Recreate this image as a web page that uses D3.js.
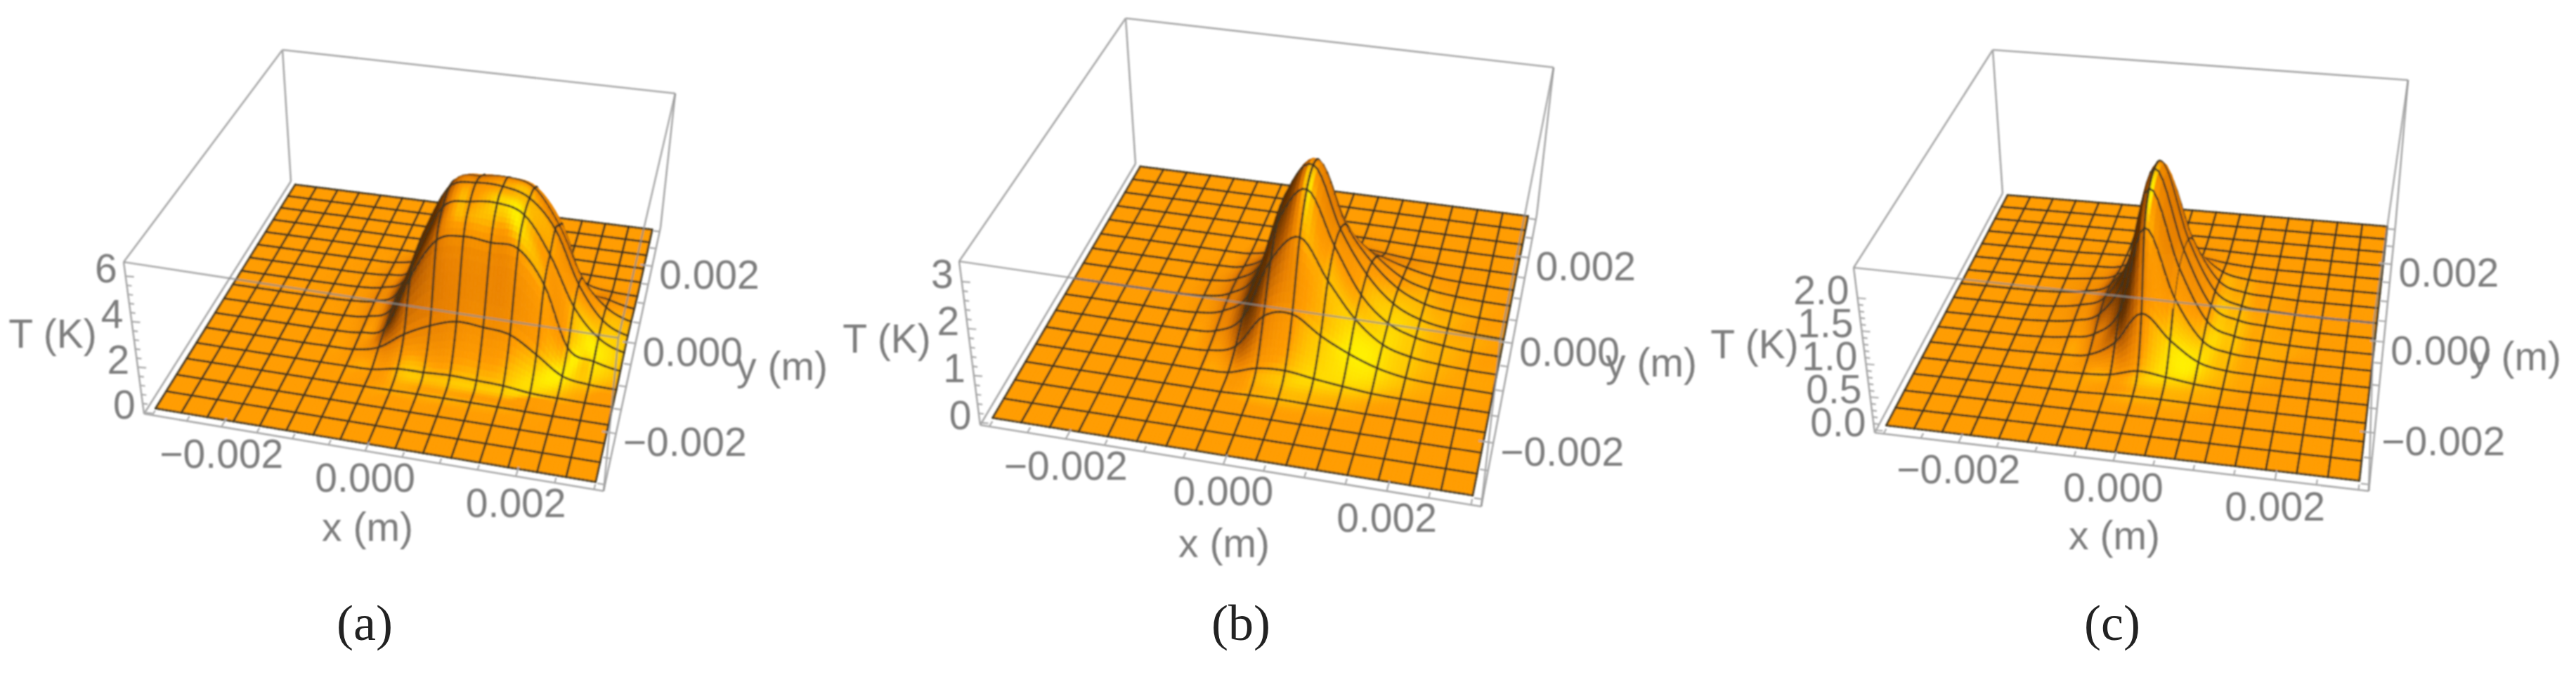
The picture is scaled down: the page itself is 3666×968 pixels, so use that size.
<!DOCTYPE html>
<html>
<head>
<meta charset="utf-8">
<title>T(x, y) surfaces</title>
<script src="https://cdnjs.cloudflare.com/ajax/libs/d3/7.8.5/d3.min.js"></script>
<style>
  html, body { margin: 0; padding: 0; background: #fff; }
  svg { display: block; }
</style>
</head>
<body>
<svg id="chart" width="3666" height="968"></svg>
<script>
// tick values and labels
var xTicks = [-0.002, 0, 0.002];
var yTicks = [-0.002, 0, 0.002];
var minorTicks = [-0.003, -0.0025, -0.0015, -0.001, -0.0005, 0.0005, 0.001, 0.0015, 0.0025, 0.003];
var zTicksA = [0, 2, 4, 6];
var zTicksB = [0, 1, 2, 3];
var zTicksC = [0, 0.5, 1, 1.5, 2];
var captions = ['(a)', '(b)', '(c)'];

// T (K) read at the mesh crossings, rows front (y = -0.003) to back, columns x = -0.003 to 0.003
var flat = [0, 0, 0, 0, 0, 0, 0, 0, 0, 0, 0, 0, 0, 0, 0, 0, 0];

var heightsA = [
  flat, flat, flat,
  [0, 0, 0, 0, 0, 0, 0, .01, .02, .03, .03, .03, .02, .01, 0, 0, 0],
  [0, 0, 0, 0, 0, 0, .01, .03, .23, .25, .3, .25, .2, .06, .02, 0, 0],
  [0, 0, 0, 0, 0, .01, .04, .3, 1.07, 1.64, 2, 1.92, 1.76, 1.04, .25, .05, .01],
  [0, 0, 0, 0, 0, .02, .1, .5, 3, 4.86, 5.2, 5.09, 4.98, 3.5, .8, .35, .1],
  [0, 0, 0, 0, .01, .03, .15, .7, 3.35, 5.74, 6.14, 6.24, 5.86, 4.2, 1.96, .7, .2],
  [0, 0, 0, 0, .01, .04, .18, .8, 3.7, 6, 6.37, 6.36, 5.98, 4.7, 2.3, .8, .25],
  [0, 0, 0, 0, .01, .03, .15, .7, 3.35, 5.7, 6.03, 6.13, 5.8, 4.2, 1.9, .7, .2],
  [0, 0, 0, 0, 0, .02, .1, .5, 3, 4.8, 5.2, 5.1, 4.9, 3.5, .8, .35, .1],
  [0, 0, 0, 0, 0, .01, .04, .3, 1.07, 1.64, 2, 1.92, 1.76, 1.04, .25, .05, .01],
  [0, 0, 0, 0, 0, 0, .01, .03, .23, .25, .3, .25, .2, .06, .02, 0, 0],
  [0, 0, 0, 0, 0, 0, 0, .01, .02, .03, .03, .03, .02, .01, 0, 0, 0],
  flat, flat, flat
];

var heightsB = [
  flat, flat, flat,
  [0, 0, 0, 0, 0, 0, 0, 0, .02, .03, .02, .01, 0, 0, 0, 0, 0],
  [0, 0, 0, 0, 0, 0, 0, .02, .2, .24, .16, .09, .03, .01, 0, 0, 0],
  [0, 0, 0, 0, 0, 0, .02, .2, .95, 1.08, .7, .4, .18, .06, .02, .01, 0],
  [0, 0, 0, 0, 0, .01, .07, .45, 1.8, 2.4, 1.53, .77, .3, .12, .05, .02, .01],
  [0, 0, 0, 0, 0, .02, .14, .62, 2.3, 3.1, 1.93, .93, .39, .16, .07, .02, .01],
  [0, 0, 0, 0, 0, .03, .17, .68, 2.5, 3.3, 1.95, 1.02, .45, .18, .07, .03, .01],
  [0, 0, 0, 0, 0, .02, .14, .62, 2.3, 3.05, 1.7, .93, .42, .16, .07, .02, .01],
  [0, 0, 0, 0, 0, .01, .07, .45, 1.7, 2.2, 1.2, .7, .3, .12, .05, .02, .01],
  [0, 0, 0, 0, 0, 0, .02, .2, .85, .9, .55, .35, .18, .06, .02, .01, 0],
  [0, 0, 0, 0, 0, 0, 0, .02, .2, .22, .14, .08, .03, .01, 0, 0, 0],
  [0, 0, 0, 0, 0, 0, 0, 0, .02, .03, .02, .01, 0, 0, 0, 0, 0],
  flat, flat, flat
];

var heightsC = [
  flat, flat, flat,
  [0, 0, 0, 0, 0, 0, 0, .01, .02, .02, .01, 0, 0, 0, 0, 0, 0],
  [0, 0, 0, 0, 0, .01, .02, .05, .15, .1, .04, .01, 0, 0, 0, 0, 0],
  [0, 0, 0, 0, .01, .02, .06, .3, .8, .42, .12, .03, .01, 0, 0, 0, 0],
  [0, 0, 0, 0, .01, .05, .14, .55, 1.92, .85, .2, .05, .02, 0, 0, 0, 0],
  [0, 0, 0, 0, .02, .07, .22, .85, 2.32, 1.1, .27, .07, .03, .01, 0, 0, 0],
  [0, 0, 0, 0, .02, .08, .25, .95, 2.42, 1.15, .28, .08, .03, .01, 0, 0, 0],
  [0, 0, 0, 0, .02, .07, .22, .85, 2.32, 1.08, .27, .07, .03, .01, 0, 0, 0],
  [0, 0, 0, 0, .01, .05, .14, .55, 1.92, .85, .2, .05, .02, 0, 0, 0, 0],
  [0, 0, 0, 0, .01, .02, .06, .3, .8, .42, .12, .03, .01, 0, 0, 0, 0],
  [0, 0, 0, 0, 0, .01, .02, .05, .15, .1, .04, .01, 0, 0, 0, 0, 0],
  [0, 0, 0, 0, 0, 0, 0, .01, .02, .02, .01, 0, 0, 0, 0, 0, 0],
  flat, flat, flat
];

// box corners in pixels for each panel, and where the labels sit
var panels = [
  {
    heights: heightsA, zTicks: zTicksA, zFormat: d3.format('d'), zDomain: [-0.05, 6.62], caption: captions[0],
    top: [[176, 373], [880, 481], [961, 133], [402, 71]],
    base: [[205, 589], [859, 699], [940, 324], [414, 258]],
    xOff: [0, 38], yOff: [10, 12], zOff: [-12, -11],
    xTitle: [523, 752], yTitle: [1113, 523], zTitle: [75, 475], capPos: [519, 895]
  },
  {
    heights: heightsB, zTicks: zTicksB, zFormat: d3.format('d'), zDomain: [-0.05, 3.43], caption: captions[1],
    top: [[1365, 372], [2135, 485], [2211, 96], [1602, 26]],
    base: [[1395, 605], [2108, 721], [2187, 306], [1616, 233]],
    xOff: [0, 38], yOff: [10, 12], zOff: [-12, -11],
    xTitle: [1742, 775], yTitle: [2350, 518], zTitle: [1262, 482], capPos: [1766, 895]
  },
  {
    heights: heightsC, zTicks: zTicksC, zFormat: d3.format('.1f'), zDomain: [-0.04, 2.46], caption: captions[2],
    top: [[2638, 381], [3378, 460], [3427, 114], [2836, 71]],
    base: [[2668, 616], [3371, 699], [3409, 321], [2850, 275]],
    xOff: [0, 38], yOff: [10, 12], zOff: [-12, -11],
    xTitle: [3009, 764], yTitle: [3580, 509], zTitle: [2497, 490], capPos: [3006, 895]
  }
];

var svg = d3.select('#chart');

svg.append('defs').append('filter')
  .attr('id', 'soft')
  .attr('filterUnits', 'userSpaceOnUse')
  .attr('x', 0).attr('y', 0).attr('width', 3666).attr('height', 968)
  .append('feGaussianBlur')
  .attr('stdDeviation', 1.2);

var meshCells = 16;
var sub = 7;
var fineN = meshCells * sub;

// unit cube coordinates
var xScale = d3.scaleLinear().domain([-0.00312, 0.00312]).range([0, 1]);
var yScale = d3.scaleLinear().domain([-0.00312, 0.00312]).range([0, 1]);
var gridScale = d3.scaleLinear().domain([0, meshCells]).range([-0.003, 0.003]);

var camera = [0.5, -1.3, 1.6];
var boxRatio = 0.4;
var light = [0.42, -0.42, 0.8];

var shade = d3.scaleLinear()
  .domain([0, 0.3, 0.58, 0.8, 0.93, 1])
  .range(['#5e2e00', '#b05800', '#e88000', '#ff9c00', '#ffd000', '#fff200'])
  .clamp(true);

// unit square to a four sided figure
function quadMap(q) {
  var x0 = q[0][0], y0 = q[0][1], x1 = q[1][0], y1 = q[1][1];
  var x2 = q[2][0], y2 = q[2][1], x3 = q[3][0], y3 = q[3][1];
  var dx1 = x1 - x2, dx2 = x3 - x2, sx = x0 - x1 + x2 - x3;
  var dy1 = y1 - y2, dy2 = y3 - y2, sy = y0 - y1 + y2 - y3;
  var den = dx1 * dy2 - dx2 * dy1;
  var g = (sx * dy2 - dx2 * sy) / den;
  var h = (dx1 * sy - sx * dy1) / den;
  var a = x1 - x0 + g * x1, b = x3 - x0 + h * x3;
  var d = y1 - y0 + g * y1, e = y3 - y0 + h * y3;
  return function (u, v) {
    var w = g * u + h * v + 1;
    return [(a * u + b * v + x0) / w, (d * u + e * v + y0) / w];
  };
}

function spline(p0, p1, p2, p3, t) {
  return 0.5 * (2 * p1 + (p2 - p0) * t + (2 * p0 - 5 * p1 + 4 * p2 - p3) * t * t + (3 * p1 - p0 - 3 * p2 + p3) * t * t * t);
}

function clampIndex(k) {
  return Math.max(0, Math.min(meshCells, k));
}

function sampleHeight(m, fi, fj) {
  var i = Math.min(meshCells - 1, Math.floor(fi)), j = Math.min(meshCells - 1, Math.floor(fj));
  var tx = fi - i, ty = fj - j;
  var rows = [-1, 0, 1, 2].map(function (dj) {
    var r = m[clampIndex(j + dj)];
    return spline(r[clampIndex(i - 1)], r[i], r[i + 1], r[clampIndex(i + 2)], tx);
  });
  return Math.max(0, spline(rows[0], rows[1], rows[2], rows[3], ty));
}

var line = d3.line();

panels.forEach(function (p) {
  var zScale = d3.scaleLinear().domain(p.zDomain).range([0, 1]);
  var baseMap = quadMap(p.base), topMap = quadMap(p.top);

  function project(x, y, z) {
    var u = xScale(x), v = yScale(y), w = zScale(z);
    var a = baseMap(u, v), b = topMap(u, v);
    return [a[0] + (b[0] - a[0]) * w, a[1] + (b[1] - a[1]) * w];
  }

  var xLo = xScale.domain()[0], xHi = xScale.domain()[1];
  var yLo = yScale.domain()[0], yHi = yScale.domain()[1];
  var zLo = p.zDomain[0], zHi = p.zDomain[1];

  var g = svg.append('g').attr('filter', 'url(#soft)');

  function edges(group, list, color, opacity) {
    group.selectAll('path')
      .data(list)
      .join('path')
      .attr('d', function (d) { return line(d); })
      .attr('fill', 'none')
      .attr('stroke', color)
      .attr('stroke-width', 2.6)
      .attr('stroke-opacity', opacity);
  }

  // box edges behind the surface
  edges(g.append('g'), [
    [project(xLo, yHi, zLo), project(xLo, yHi, zHi)],
    [project(xHi, yHi, zLo), project(xHi, yHi, zHi)],
    [project(xLo, yHi, zHi), project(xHi, yHi, zHi)],
    [project(xLo, yLo, zHi), project(xLo, yHi, zHi)],
    [project(xLo, yLo, zLo), project(xLo, yHi, zLo)],
    [project(xHi, yLo, zLo), project(xHi, yHi, zLo)],
    [project(xLo, yLo, zLo), project(xHi, yLo, zLo)],
    [project(xLo, yLo, zLo), project(xLo, yLo, zHi)]
  ], '#a8a8a8', 1);

  // fine samples of the surface between the mesh crossings
  var fine = d3.range(fineN + 1).map(function (fj) {
    return d3.range(fineN + 1).map(function (fi) {
      return sampleHeight(p.heights, fi / sub, fj / sub);
    });
  });

  function gx(fi) { return gridScale(fi / sub); }

  function depth(u, v, w) {
    var dx = u - camera[0], dy = v - camera[1], dz = w * boxRatio - camera[2];
    return Math.sqrt(dx * dx + dy * dy + dz * dz);
  }

  function depthAt(fi, fj) {
    return depth(xScale(gx(fi)), yScale(gx(fj)), zScale(fine[Math.round(fj)][Math.round(fi)]));
  }

  var items = [];
  var cell = xScale(gx(1)) - xScale(gx(0));
  var wRange = function (t) { return zScale(t) * boxRatio; };

  for (var fj = 0; fj < fineN; fj++) {
    for (var fi = 0; fi < fineN; fi++) {
      var h00 = fine[fj][fi], h10 = fine[fj][fi + 1], h11 = fine[fj + 1][fi + 1], h01 = fine[fj + 1][fi];
      // normal from the two diagonals of the small cell
      var dzx = (wRange(h10) + wRange(h11) - wRange(h00) - wRange(h01)) / (2 * cell);
      var dzy = (wRange(h01) + wRange(h11) - wRange(h00) - wRange(h10)) / (2 * cell);
      var len = Math.sqrt(dzx * dzx + dzy * dzy + 1);
      var b = (-dzx * light[0] - dzy * light[1] + light[2]) / len;
      items.push({
        type: 'cell',
        order: depth(xScale(gx(fi + 0.5)), yScale(gx(fj + 0.5)), zScale((h00 + h10 + h11 + h01) / 4)),
        d: line([
          project(gx(fi), gx(fj), h00), project(gx(fi + 1), gx(fj), h10),
          project(gx(fi + 1), gx(fj + 1), h11), project(gx(fi), gx(fj + 1), h01)
        ]) + 'Z',
        color: shade(b)
      });
    }
  }

  // mesh lines go in the same back to front order, a little ahead of their cells
  var bias = cell * 0.8;
  for (var m = 0; m <= meshCells; m++) {
    for (var k = 0; k < fineN; k++) {
      var fixed = m * sub;
      items.push({
        type: 'mesh',
        order: (depthAt(fixed, k) + depthAt(fixed, k + 1)) / 2 - bias,
        d: line([project(gx(fixed), gx(k), fine[k][fixed]), project(gx(fixed), gx(k + 1), fine[k + 1][fixed])])
      });
      items.push({
        type: 'mesh',
        order: (depthAt(k, fixed) + depthAt(k + 1, fixed)) / 2 - bias,
        d: line([project(gx(k), gx(fixed), fine[fixed][k]), project(gx(k + 1), gx(fixed), fine[fixed][k + 1])])
      });
    }
  }

  items.sort(function (a, b) { return d3.descending(a.order, b.order); });

  g.append('g').selectAll('path')
    .data(items)
    .join('path')
    .attr('d', function (d) { return d.d; })
    .attr('fill', function (d) { return d.type === 'cell' ? d.color : 'none'; })
    .attr('stroke', function (d) { return d.type === 'cell' ? d.color : '#3d3520'; })
    .attr('stroke-width', function (d) { return d.type === 'cell' ? 0.8 : 3; })
    .attr('stroke-linecap', 'round')
    .attr('stroke-opacity', function (d) { return d.type === 'cell' ? 1 : 0.85; });

  // box edges in front of the surface
  edges(g.append('g'), [
    [project(xLo, yLo, zHi), project(xHi, yLo, zHi)],
    [project(xHi, yLo, zHi), project(xHi, yHi, zHi)],
    [project(xHi, yLo, zLo), project(xHi, yLo, zHi)]
  ], '#909090', 0.75);

  // ticks on the three labelled edges
  var tickGroup = g.append('g');
  function tick(a, b) {
    tickGroup.append('path')
      .attr('d', line([a, b]))
      .attr('stroke', '#a8a8a8')
      .attr('stroke-width', 2.2);
  }

  xTicks.concat(minorTicks).forEach(function (t) {
    var major = xTicks.indexOf(t) >= 0;
    tick(project(t, yLo, zLo), project(t, yLo + (major ? 0.00018 : 0.0001), zLo));
  });
  yTicks.concat(minorTicks).forEach(function (t) {
    var major = yTicks.indexOf(t) >= 0;
    tick(project(xHi, t, zLo), project(xHi - (major ? 0.00018 : 0.0001), t, zLo));
  });
  var zStep = p.zTicks[1] - p.zTicks[0];
  d3.range(0, p.zTicks[p.zTicks.length - 1] + zStep / 10, zStep / 5).forEach(function (t, k) {
    var q = project(xLo, yLo, t);
    tick(q, [q[0] + (k % 5 === 0 ? 12 : 7), q[1] + 1]);
  });

  // labels
  var labels = g.append('g')
    .attr('font-family', '"Liberation Sans", Arial, sans-serif')
    .attr('font-size', 57)
    .attr('fill', '#7d7d7d');

  var tickFormat = function (t) { return d3.format('.3f')(t).replace('-', '\u2212'); };

  labels.selectAll('text.xt')
    .data(xTicks)
    .join('text')
    .attr('class', 'xt')
    .attr('text-anchor', 'middle')
    .attr('x', function (t) { return project(t, yLo, zLo)[0] + p.xOff[0]; })
    .attr('y', function (t) { return project(t, yLo, zLo)[1] + p.xOff[1] + 20; })
    .text(tickFormat);

  labels.selectAll('text.yt')
    .data(yTicks)
    .join('text')
    .attr('class', 'yt')
    .attr('x', function (t) { return project(xHi, t, zLo)[0] + p.yOff[0]; })
    .attr('y', function (t) { return project(xHi, t, zLo)[1] + p.yOff[1] + 20; })
    .text(tickFormat);

  labels.selectAll('text.zt')
    .data(p.zTicks)
    .join('text')
    .attr('class', 'zt')
    .attr('text-anchor', 'end')
    .attr('x', function (t) { return project(xLo, yLo, t)[0] + p.zOff[0]; })
    .attr('y', function (t) { return project(xLo, yLo, t)[1] + p.zOff[1] + 20; })
    .text(p.zFormat);

  labels.append('text').attr('text-anchor', 'middle')
    .attr('x', p.xTitle[0]).attr('y', p.xTitle[1] + 18).text('x (m)');
  labels.append('text').attr('text-anchor', 'middle')
    .attr('x', p.yTitle[0]).attr('y', p.yTitle[1] + 18).text('y (m)');
  labels.append('text').attr('text-anchor', 'middle')
    .attr('x', p.zTitle[0]).attr('y', p.zTitle[1] + 20).text('T (K)');

  svg.append('text')
    .attr('text-anchor', 'middle')
    .attr('x', p.capPos[0]).attr('y', p.capPos[1] + 16)
    .attr('font-family', '"Liberation Serif", "DejaVu Serif", serif')
    .attr('font-size', 72)
    .attr('fill', '#222')
    .text(p.caption);
});
</script>
</body>
</html>
